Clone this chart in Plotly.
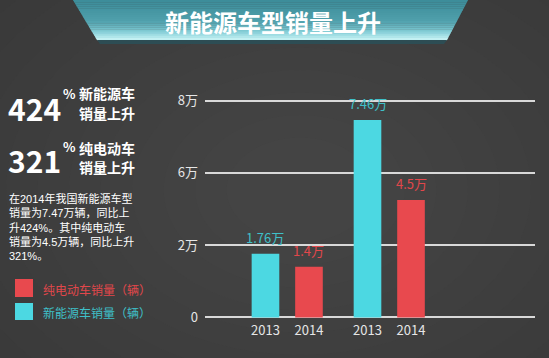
import plotly.graph_objects as go
import numpy as np

# ---------------- data ----------------
year_labels = ["2013", "2014"]
new_energy_sales = [1.76, 7.46]      # 万辆 (cyan)
pure_ev_sales = [1.4, 4.5]           # 万辆 (red)
new_energy_text = ["1.76万", "7.46万"]
pure_ev_text = ["1.4万", "4.5万"]
tick_values = [0, 2, 6, 8]
tick_text = ["0", "2万", "6万", "8万"]
title = "新能源车型销量上升"
stat1_num, stat1_a, stat1_b = "424", "新能源车", "销量上升"
stat2_num, stat2_a, stat2_b = "321", "纯电动车", "销量上升"
paragraph = ["在2014年我国新能源车型", "销量为7.47万辆，同比上",
             "升424%。其中纯电动车", "销量为4.5万辆，同比上升", "321%。"]
legend_names = ["纯电动车销量（辆）", "新能源车销量（辆）"]

# ---------------- style ----------------
CYAN = "#4cd8e2"
RED = "#e8494e"
CYAN_T = "#3fc0c9"
RED_T = "#e2474b"
FONT = "Noto Sans CJK SC"
PARA_FONT = "Liberation Sans, Noto Sans CJK SC"
W, H = 549, 358
L, R, T, B = 205, 535, 97, 321
GROUP_GAP = 2.345
BAR_W = 0.635

def fx(x):
    return (x - L) / (R - L)

def fy(y):
    return (B - y) / (B - T)

# the axis in the original is evenly spaced between its labels 0/2/6/8
tick_pos = list(range(len(tick_values)))
def yscale(v):
    return float(np.interp(v, tick_values, tick_pos))

x_cyan = [g * GROUP_GAP + 0 for g in range(len(new_energy_sales))]
x_red = [g * GROUP_GAP + 1 for g in range(len(pure_ev_sales))]

fig = go.Figure()
fig.add_trace(go.Bar(x=x_cyan, y=[yscale(v) for v in new_energy_sales], width=BAR_W,
                     marker=dict(color=CYAN, line=dict(width=0)), name=legend_names[1],
                     hoverinfo="skip"))
fig.add_trace(go.Bar(x=x_red, y=[yscale(v) for v in pure_ev_sales], width=BAR_W,
                     marker=dict(color=RED, line=dict(width=0)), name=legend_names[0],
                     hoverinfo="skip"))

ann = []
for xv, v, t in zip(x_cyan, new_energy_sales, new_energy_text):
    ann.append(dict(x=xv, y=yscale(v), xref="x", yref="y", text=t, showarrow=False,
                    xanchor="center", yanchor="bottom", yshift=5,
                    font=dict(family=FONT, size=13, color=CYAN_T)))
for xv, v, t in zip(x_red, pure_ev_sales, pure_ev_text):
    ann.append(dict(x=xv, y=yscale(v), xref="x", yref="y", text=t, showarrow=False,
                    xanchor="center", yanchor="bottom", yshift=5,
                    font=dict(family=FONT, size=13, color=RED_T)))

# ---------------- background & banner ----------------
shapes = []

# soft vignette (lighter centre)
cx, cy = 300, 190
for k in range(12):
    s = 1.0 - k * 0.075
    rx, ry = 420 * s, 300 * s
    shapes.append(dict(type="circle", xref="paper", yref="paper",
                       x0=fx(cx - rx), x1=fx(cx + rx), y0=fy(cy + ry), y1=fy(cy - ry),
                       fillcolor="#7a7a7a", opacity=0.022, line=dict(width=0), layer="below"))

top_l, bot_l, top_r, bot_r, y_top, y_bot = 73, 97, 468, 447, 0, 40
stops = [(0.0, (58, 138, 152)), (0.55, (80, 160, 172)), (0.8, (130, 205, 214)), (1.0, (205, 245, 247))]

def col_at(t):
    for (t0, c0), (t1, c1) in zip(stops[:-1], stops[1:]):
        if t0 <= t <= t1:
            f = (t - t0) / (t1 - t0) if t1 > t0 else 0
            return "rgb(%d,%d,%d)" % tuple(int(c0[i] + (c1[i] - c0[i]) * f) for i in range(3))
    return "rgb(%d,%d,%d)" % stops[-1][1]

def xl(y):
    return top_l + (bot_l - top_l) * (y - y_top) / (y_bot - y_top)

def xr(y):
    return top_r + (bot_r - top_r) * (y - y_top) / (y_bot - y_top)

n = 20
for i in range(n):
    ya = y_top - 2 + (y_bot - y_top + 2) * i / n
    yb = y_top - 2 + (y_bot - y_top + 2) * (i + 1) / n
    path = "M %f,%f L %f,%f L %f,%f L %f,%f Z" % (
        fx(xl(ya)), fy(ya), fx(xr(ya)), fy(ya), fx(xr(yb)), fy(yb + 0.3), fx(xl(yb)), fy(yb + 0.3))
    shapes.append(dict(type="path", xref="paper", yref="paper", path=path,
                       fillcolor=col_at((i + 0.5) / n), line=dict(width=0), layer="below"))
# dark shadow under banner
shapes.append(dict(type="path", xref="paper", yref="paper",
                   path="M %f,%f L %f,%f L %f,%f L %f,%f Z" % (fx(97), fy(40), fx(447), fy(40),
                                                             fx(444), fy(44), fx(100), fy(44)),
                   fillcolor="#2d4d54", line=dict(width=0), layer="below"))

ann.append(dict(x=fx(273), y=fy(21), xref="paper", yref="paper", text=title, showarrow=False,
                xanchor="center", yanchor="middle",
                font=dict(family=FONT, size=24, color="white", weight=700)))

# ---------------- left panel ----------------
def txt(x, y, s, size, color="white", weight=400, xanchor="left", align="left", family=FONT):
    ann.append(dict(x=fx(x), y=fy(y), xref="paper", yref="paper", text=s, showarrow=False,
                    xanchor=xanchor, yanchor="middle", borderpad=0, align=align,
                    font=dict(family=family, size=size, color=color, weight=weight)))

txt(7, 108, stat1_num, 30, weight=700)
txt(62, 93, "%", 13, weight=700)
txt(78, 93, stat1_a, 14, weight=700)
txt(78, 113, stat1_b, 14, weight=700)
txt(7, 160, stat2_num, 30, weight=700)
txt(62, 146, "%", 13, weight=700)
txt(78, 148, stat2_a, 14, weight=700)
txt(78, 167, stat2_b, 14, weight=700)
txt(8, 227, "<br>".join(paragraph), 11, family=PARA_FONT)

shapes.append(dict(type="rect", xref="paper", yref="paper", x0=fx(15), x1=fx(33), y0=fy(297), y1=fy(279),
                   fillcolor=RED, line=dict(width=0)))
shapes.append(dict(type="rect", xref="paper", yref="paper", x0=fx(15), x1=fx(33), y0=fy(320), y1=fy(303),
                   fillcolor=CYAN, line=dict(width=0)))
txt(42, 289, legend_names[0], 12, color=RED_T)
txt(42, 312, legend_names[1], 12, color=CYAN_T)

fig.update_layout(
    width=W, height=H,
    margin=dict(l=L, r=W - R, t=T, b=H - B),
    paper_bgcolor="#383838", plot_bgcolor="rgba(0,0,0,0)",
    showlegend=False, barmode="overlay",
    shapes=shapes, annotations=ann,
    font=dict(family=FONT),
    xaxis=dict(range=[-1.39, 6.195], tickvals=x_cyan + x_red,
               ticktext=[year_labels[0]] * len(x_cyan) + [year_labels[1]] * len(x_red),
               showgrid=False, zeroline=False, showline=False, ticks="",
               tickfont=dict(family=FONT, size=13, color="#e6e6e6")),
    yaxis=dict(range=[-0.05, 3.05], tickvals=tick_pos, ticktext=tick_text,
               showgrid=True, gridcolor="#d9d9d9", gridwidth=2, zeroline=False,
               showline=False, ticks="", ticklabelstandoff=6,
               tickfont=dict(family=FONT, size=13, color="#e6e6e6")),
)

fig.write_html("out.html", config={"displayModeBar": False},
               post_script="document.body.style.margin='0';document.body.style.background='#383838';")
